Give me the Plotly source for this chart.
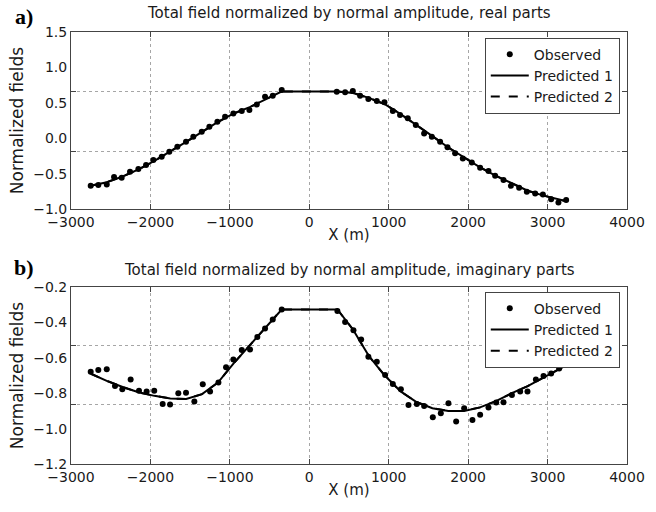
import plotly.graph_objects as go

# ---------------- data ----------------
# Panel a (real parts)
x_obs_a = [-2752, -2656, -2550, -2458, -2362, -2257, -2152, -2055, -1963, -1858, -1762, -1661,
           -1552, -1460, -1354, -1258, -1157, -1060, -956, -850, -754, -661, -557, -460, -347,
           346, 451, 548, 640, 744, 850, 946, 1052, 1143, 1240, 1341, 1446, 1543, 1647, 1740,
           1836, 1933, 2046, 2151, 2256, 2340, 2445, 2538, 2642, 2739, 2844, 2941, 3045, 3137, 3234]
y_obs_a = [-0.671, -0.661, -0.651, -0.548, -0.558, -0.473, -0.435, -0.379, -0.308, -0.261, -0.190, -0.120,
           -0.049, 0.022, 0.092, 0.163, 0.233, 0.304, 0.351, 0.384, 0.398, 0.476, 0.587, 0.600, 0.681,
           0.657, 0.648, 0.667, 0.600, 0.554, 0.525, 0.507, 0.384, 0.328, 0.281, 0.186, 0.069, 0.022, -0.049, -0.127,
           -0.213, -0.284, -0.341, -0.416, -0.463, -0.530, -0.590, -0.671, -0.699, -0.756, -0.778, -0.793, -0.859, -0.906, -0.873]
x_pred_a = [-2750, -2550, -2350, -2150, -1950, -1750, -1550, -1350, -1150, -950, -750, -550, -350,
            350, 550, 750, 950, 1150, 1350, 1550, 1750, 1950, 2150, 2350, 2550, 2750, 2950, 3240]
y_pred1_a = [-0.67, -0.62, -0.54, -0.44, -0.32, -0.19, -0.05, 0.09, 0.23, 0.35, 0.44, 0.55, 0.66,
             0.66, 0.64, 0.57, 0.48, 0.34, 0.19, 0.03, -0.13, -0.27, -0.41, -0.53, -0.64, -0.74, -0.81, -0.89]
y_pred2_a = [-0.67, -0.62, -0.54, -0.44, -0.32, -0.19, -0.05, 0.09, 0.23, 0.35, 0.44, 0.55, 0.66,
             0.66, 0.64, 0.57, 0.48, 0.34, 0.19, 0.03, -0.13, -0.27, -0.41, -0.53, -0.64, -0.74, -0.81, -0.89]

# Panel b (imaginary parts)
x_obs_b = [-2752, -2656, -2550, -2446, -2354, -2249, -2144, -2048, -1952, -1846, -1753, -1649,
           -1552, -1447, -1341, -1249, -1144, -1048, -956, -850, -746, -654, -557, -460, -347,
           354, 451, 556, 653, 744, 850, 955, 1052, 1153, 1249, 1354, 1446, 1555, 1656, 1752,
           1849, 1950, 2054, 2151, 2256, 2353, 2445, 2551, 2655, 2747, 2853, 2949, 3045, 3146, 3244]
y_obs_b = [-0.679, -0.669, -0.665, -0.759, -0.778, -0.722, -0.786, -0.791, -0.786, -0.861, -0.864, -0.800,
           -0.797, -0.847, -0.750, -0.791, -0.740, -0.654, -0.609, -0.556, -0.553, -0.482, -0.434, -0.384, -0.327,
           -0.335, -0.397, -0.444, -0.496, -0.594, -0.622, -0.697, -0.748, -0.778, -0.866, -0.861, -0.872, -0.936, -0.913, -0.857,
           -0.960, -0.885, -0.951, -0.922, -0.881, -0.853, -0.851, -0.810, -0.791, -0.791, -0.722, -0.703, -0.688, -0.660, -0.617]
x_pred_b = [-2750, -2550, -2350, -2150, -1950, -1750, -1550, -1350, -1150, -950, -750, -550, -347,
            354, 550, 750, 950, 1150, 1350, 1550, 1750, 1950, 2150, 2350, 2550, 2750, 2950, 3244]
y_pred1_b = [-0.69, -0.73, -0.765, -0.795, -0.815, -0.830, -0.833, -0.805, -0.74, -0.63, -0.53, -0.43, -0.327,
             -0.327, -0.44, -0.59, -0.70, -0.79, -0.85, -0.885, -0.90, -0.90, -0.88, -0.845, -0.80, -0.76, -0.71, -0.64]
y_pred2_b = [-0.69, -0.73, -0.765, -0.795, -0.815, -0.830, -0.833, -0.805, -0.74, -0.63, -0.53, -0.43, -0.327,
             -0.327, -0.44, -0.59, -0.70, -0.79, -0.85, -0.885, -0.90, -0.90, -0.88, -0.845, -0.80, -0.76, -0.71, -0.64]

# ticks
x_ticks = [-3000, -2000, -1000, 0, 1000, 2000, 3000, 4000]
x_ticktext = ["\u22123000", "\u22122000", "\u22121000", "0", "1000", "2000", "3000", "4000"]
y_ticks_a = [1.5, 1.0, 0.5, 0.0, -0.5, -1.0]
y_ticktext_a = ["1.5", "1.0", "0.5", "0.0", "\u22120.5", "\u22121.0"]
y_grid_a = [0.66, -0.18]
y_ticks_b = [-0.2, -0.4, -0.6, -0.8, -1.0, -1.2]
y_ticktext_b = ["\u22120.2", "\u22120.4", "\u22120.6", "\u22120.8", "\u22121.0", "\u22121.2"]
y_grid_b = [-0.53, -0.865]

titles = ["Total field normalized by normal amplitude, real parts",
          "Total field normalized by normal amplitude, imaginary parts"]
panel_labels = ["a)", "b)"]

# ---------------- figure ----------------
FONT = "DejaVu Sans, Liberation Sans, Arial, sans-serif"
TXT = "#1a1a1a"
AXC = "#444444"
GRIDC = "#a6a6a6"

fig = go.Figure()

def add_panel(xo, yo, xp, yp1, yp2, xa, ya, leg, ya_over):
    fig.add_trace(go.Scatter(x=xp, y=yp2, mode="lines", name="Predicted 2",
                             line=dict(color="black", width=2, dash="dash"),
                             xaxis=xa, yaxis=ya, legend=leg, legendrank=3))
    fig.add_trace(go.Scatter(x=xp, y=yp1, mode="lines", name="Predicted 1",
                             line=dict(color="black", width=2),
                             xaxis=xa, yaxis=ya, legend=leg, legendrank=2))
    fig.add_trace(go.Scatter(x=xo, y=yo, mode="markers", name="Observed",
                             marker=dict(color="black", size=6),
                             xaxis=xa, yaxis=ya, legend=leg, legendrank=1))
    fig.add_trace(go.Scatter(x=[None], y=[None], mode="markers", showlegend=False,
                             hoverinfo="skip", xaxis=xa, yaxis=ya_over))

add_panel(x_obs_a, y_obs_a, x_pred_a, y_pred1_a, y_pred2_a, "x", "y", "legend", "y3")
add_panel(x_obs_b, y_obs_b, x_pred_b, y_pred1_b, y_pred2_b, "x2", "y2", "legend2", "y4")

tickfont = dict(family=FONT, size=14, color=TXT)

def xaxis_cfg(anchor):
    return dict(anchor=anchor, domain=[0, 1], range=[-3000, 4000], tickvals=x_ticks,
                ticktext=x_ticktext, ticks="inside", ticklen=5, tickcolor=AXC,
                showline=True, linecolor=AXC, linewidth=1, mirror="ticks",
                showgrid=True, gridcolor=GRIDC, griddash="dot", gridwidth=1,
                zeroline=False, tickfont=tickfont, automargin=False,
                title=dict(text="X (m)", font=dict(family=FONT, size=15, color=TXT), standoff=0))

def ylabel_cfg(anchor, dom, rng, tv, tt):
    return dict(anchor=anchor, domain=dom, range=rng, tickvals=tv, ticktext=tt, ticks="",
                showline=True, linecolor=AXC, linewidth=1, mirror=True, showgrid=False,
                zeroline=False, tickfont=tickfont, automargin=False,
                title=dict(text="Normalized fields", font=dict(family=FONT, size=17, color=TXT), standoff=5))

def ygrid_cfg(over, anchor, rng, tv):
    return dict(overlaying=over, anchor=anchor, side="left", range=rng, tickvals=tv,
                showticklabels=False, ticks="inside", ticklen=5, tickcolor=AXC,
                showline=True, linecolor=AXC, mirror="ticks", showgrid=True,
                gridcolor=GRIDC, griddash="dot", gridwidth=1, zeroline=False, automargin=False)

dom_a = [0.590, 1.0]
dom_b = [0.0, 0.4097]

legend_common = dict(xanchor="right", yanchor="top", x=0.987, bgcolor="white",
                     bordercolor=AXC, borderwidth=1, itemwidth=38,
                     font=dict(family=FONT, size=14, color=TXT),
                     tracegroupgap=0, traceorder="normal")

fig.update_layout(
    width=656, height=512,
    margin=dict(l=71, r=29, t=32, b=48, autoexpand=False),
    paper_bgcolor="white", plot_bgcolor="white",
    xaxis=xaxis_cfg("y"),
    xaxis2=xaxis_cfg("y2"),
    yaxis=ylabel_cfg("x", dom_a, [-1.0, 1.5], y_ticks_a, y_ticktext_a),
    yaxis2=ylabel_cfg("x2", dom_b, [-1.2, -0.2], y_ticks_b, y_ticktext_b),
    yaxis3=ygrid_cfg("y", "x", [-1.0, 1.5], y_grid_a),
    yaxis4=ygrid_cfg("y2", "x2", [-1.2, -0.2], y_grid_b),
    legend=dict(y=0.987, **legend_common),
    legend2=dict(y=0.399, **legend_common),
    showlegend=True,
)

fig.add_annotation(text=titles[0], xref="paper", yref="paper", x=0.5, y=1.044,
                   xanchor="center", yanchor="middle", showarrow=False,
                   font=dict(family=FONT, size=15, color=TXT))
fig.add_annotation(text=titles[1], xref="paper", yref="paper", x=0.5, y=0.449,
                   xanchor="center", yanchor="middle", showarrow=False,
                   font=dict(family=FONT, size=15, color=TXT))
fig.add_annotation(text="<b>" + panel_labels[0] + "</b>", xref="paper", yref="paper",
                   x=-0.0845, y=1.036, xanchor="center", yanchor="middle", showarrow=False,
                   font=dict(family="Liberation Serif, Times New Roman, serif", size=22, color="black"))
fig.add_annotation(text="<b>" + panel_labels[1] + "</b>", xref="paper", yref="paper",
                   x=-0.0845, y=0.454, xanchor="center", yanchor="middle", showarrow=False,
                   font=dict(family="Liberation Serif, Times New Roman, serif", size=22, color="black"))

# remove the browser's default 8px page margin so the figure fills the window exactly
fig.write_html("out.html", config={"displayModeBar": False},
               post_script="document.body.style.margin='0px';")
